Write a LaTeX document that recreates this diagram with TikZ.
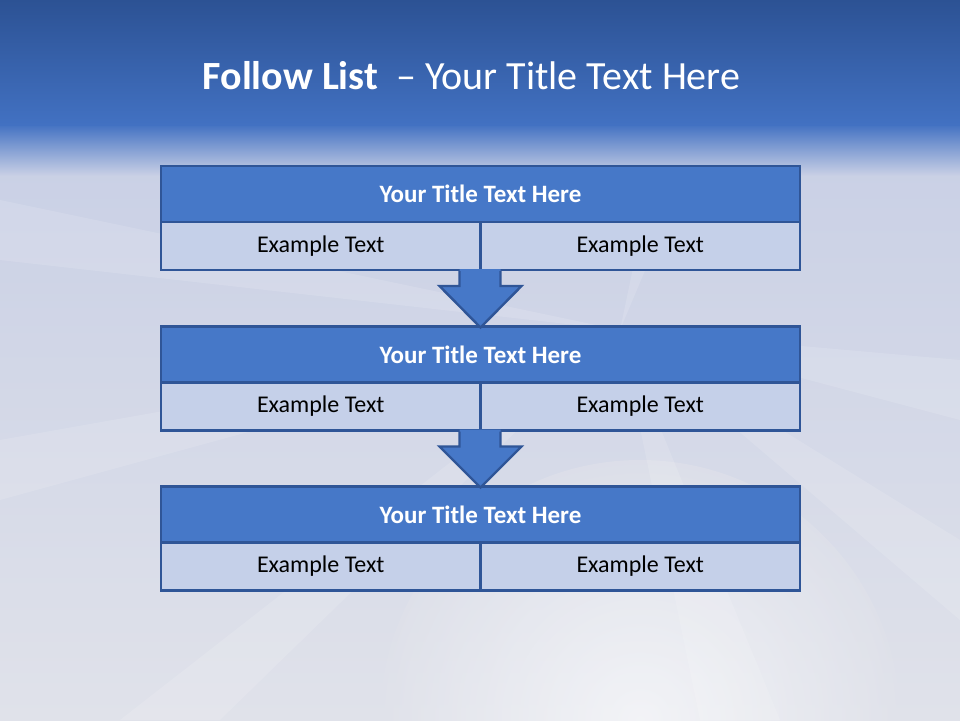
\documentclass[tikz,border=0pt]{standalone}
\usepackage{fontspec}
\setmainfont{Carlito}
\usetikzlibrary{calc,fadings}
\definecolor{bandtop}{RGB}{44,82,148}
\definecolor{bandbot}{RGB}{66,113,194}
\definecolor{bglight}{RGB}{200,207,229}
\definecolor{bgpale}{RGB}{224,226,234}
\definecolor{titlefill}{RGB}{70,120,200}
\definecolor{rowfill}{RGB}{197,208,233}
\definecolor{edge}{RGB}{47,85,151}
\tikzset{
  titlerow/.style={draw=edge, fill=titlefill, line width=2.4pt, minimum width=639pt, minimum height=56pt, inner sep=0pt, outer sep=0pt, text=white, font=\fontsize{25}{30}\selectfont\bfseries},
  cellrow/.style={draw=edge, fill=rowfill, line width=2.4pt, minimum width=319.5pt, minimum height=48pt, inner sep=0pt, outer sep=0pt, text=black, font=\fontsize{24}{29}\selectfont},
  downfill/.style={fill=titlefill},
  downedge/.style={draw=edge, line width=2.4pt, line join=miter},
  ray/.style={fill=white, opacity=0.13}
}
\begin{document}
\begin{tikzpicture}[x=1pt,y=-1pt]
\useasboundingbox (0,0) rectangle (960,720);
% background
\shade[top color=bglight, bottom color=bgpale] (0,120) rectangle (960,720);
\shade[inner color=white, outer color=bgpale, opacity=0.6] (640,720) circle[radius=260];
\fill[ray] (620,330) -- (960,360) -- (960,420) -- cycle;
\fill[ray] (620,330) -- (960,540) -- (960,620) -- cycle;
\fill[ray] (620,330) -- (700,720) -- (780,720) -- cycle;
\fill[ray] (620,330) -- (0,440) -- (0,500) -- cycle;
\fill[ray] (620,330) -- (120,720) -- (220,720) -- cycle;
\fill[ray] (620,330) -- (660,140) -- (700,140) -- cycle;
\fill[ray] (620,330) -- (0,200) -- (0,260) -- cycle;
\shade[top color=bandbot, bottom color=bglight] (0,124) rectangle (960,175);
\shade[top color=bandtop, bottom color=bandbot] (0,0) rectangle (960,125);
% heading
\node (head) at (471.5,76) {\color{white}\fontsize{40}{48}\selectfont\textbf{Follow List}\ \ – Your Title Text Here};
% block 1
\node[titlerow] (t1) at (480.5,194) {Your Title Text Here};
\node[cellrow, anchor=north west] (c1l) at (t1.south west) {Example Text};
\node[cellrow, anchor=north east] (c1r) at (t1.south east) {Example Text};
% block 2
\node[titlerow] (t2) at (480.5,354.5) {Your Title Text Here};
\node[cellrow, anchor=north west] (c2l) at (t2.south west) {Example Text};
\node[cellrow, anchor=north east] (c2r) at (t2.south east) {Example Text};
% block 3
\node[titlerow] (t3) at (480.5,514.5) {Your Title Text Here};
\node[cellrow, anchor=north west] (c3l) at (t3.south west) {Example Text};
\node[cellrow, anchor=north east] (c3r) at (t3.south east) {Example Text};
% arrows
\foreach \a/\b in {c1l/t2, c2l/t3}{
  \coordinate (top) at (\a.south east);
  \coordinate (tip) at (\b.north);
  \fill[downfill] ($(top)+(-21,-1)$) -- ($(top)+(-21,16)$) -- ($(top)+(-41,16)$) -- ($(tip)+(0,1)$) -- ($(top)+(41,16)$) -- ($(top)+(20,16)$) -- ($(top)+(20,-1)$) -- cycle;
  \draw[downedge] ($(top)+(-21,1)$) -- ($(top)+(-21,16)$) -- ($(top)+(-41,16)$) -- ($(tip)+(0,1)$) -- ($(top)+(41,16)$) -- ($(top)+(20,16)$) -- ($(top)+(20,1)$);
}
\end{tikzpicture}
\end{document}
